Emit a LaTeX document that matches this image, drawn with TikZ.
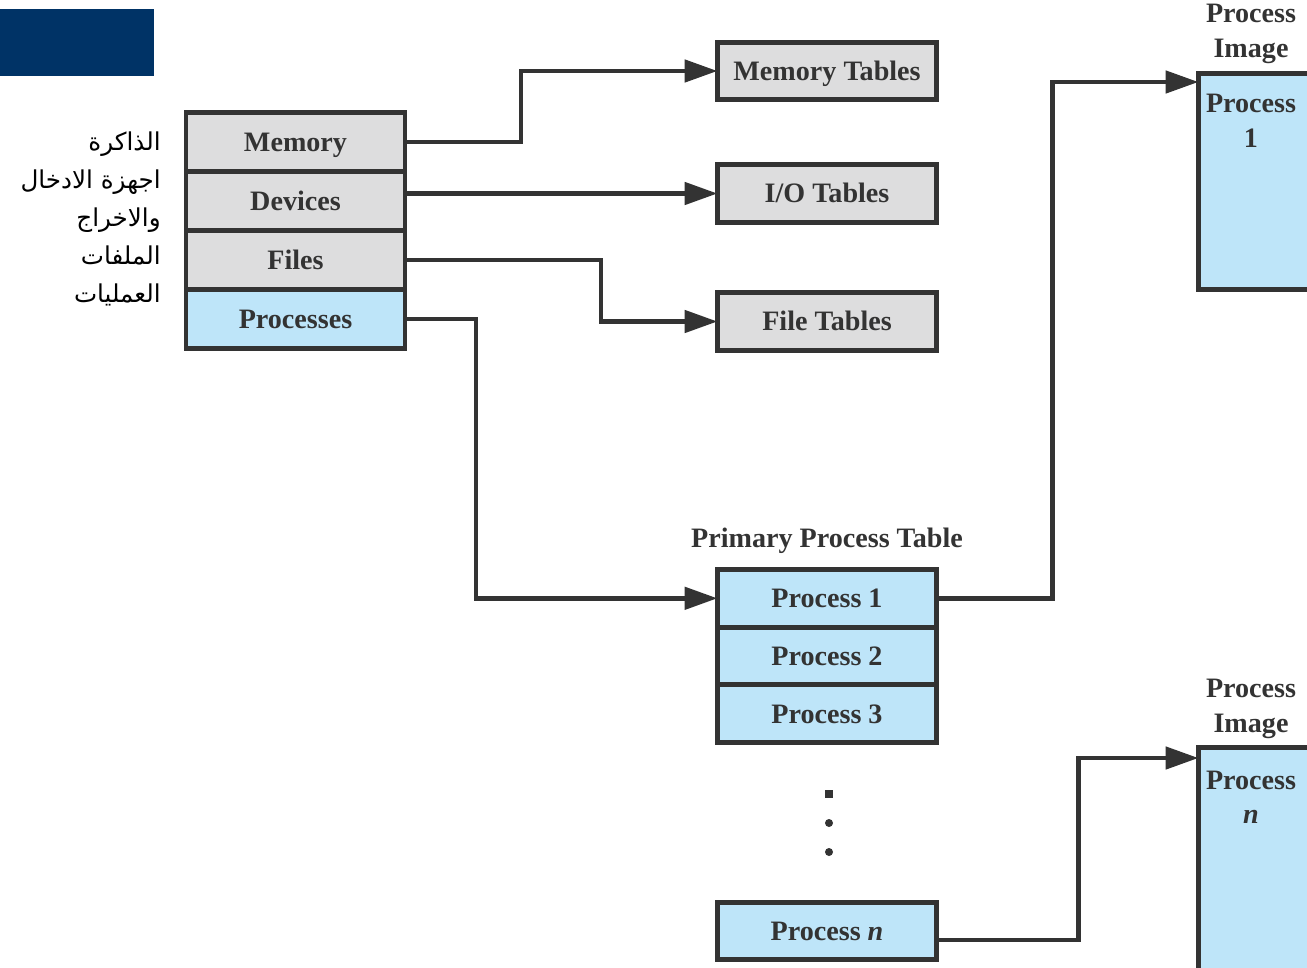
\documentclass[tikz,border=0pt]{standalone}
\usepackage{fontspec}
\setmainfont{Liberation Serif}
\newfontfamily\arabicfont[Script=Arabic]{DejaVu Sans}
\TeXXeTstate=1
\usetikzlibrary{positioning}
\usetikzlibrary{arrows.meta}
\definecolor{rowgray}{RGB}{221,221,222}
\definecolor{rowblue}{RGB}{190,229,249}
\definecolor{edgegray}{RGB}{51,51,51}
\definecolor{navy}{RGB}{0,51,102}
\tikzset{row/.style = {draw=edgegray, line width=2.8pt, minimum width=4.38cm, minimum height=1.18cm,
    inner sep=0, outer sep=0, text=edgegray, text height=10.6pt, text depth=0pt,
    font=\fontsize{16}{19.6}\selectfont\bfseries}}
\tikzset{grayrow/.style = {row, fill=rowgray}}
\tikzset{bluerow/.style = {row, fill=rowblue}}
\tikzset{tabrow/.style = {row, minimum height=1.15cm}}
\tikzset{caption/.style = {inner sep=0, align=center, text=edgegray, font=\fontsize{16}{19.6}\selectfont\bfseries}}
\tikzset{conn/.style = {draw=edgegray, line width=2.8pt, -{Triangle[length=0.66cm, width=0.44cm]}}}
\tikzset{dot/.style = {fill=edgegray, inner sep=0, minimum size=0.16cm}}

\begin{document}
\begin{tikzpicture}[x=0.02cm, y=-0.02cm]
      \useasboundingbox (0,0) rectangle (1307,967);
      \clip (0,0) rectangle (1307,967);
      \fill[navy] (0,9) rectangle (154,76);
      % arabic names of the rows
      \node[anchor=east, align=right, inner sep=0, font=\arabicfont\fontsize{14}{21.6}\selectfont] (ar) at (161,219)
        {\beginR الذاكرة\endR\\ \beginR اجهزة الادخال\endR\\ \beginR والاخراج\endR\\ \beginR الملفات\endR\\ \beginR العمليات\endR};
      % system tables
      \node[grayrow] (mem) at (295.5,142) {Memory};
      \node[grayrow] (dev) at (295.5,201) {Devices};
      \node[grayrow] (fil) at (295.5,260) {Files};
      \node[bluerow] (pro) at (295.5,319) {Processes};
      \node[tabrow, fill=rowgray] (memt) at (827,71) {Memory Tables};
      \node[tabrow, fill=rowgray] (iot) at (827,193.5) {I/O Tables};
      \node[tabrow, fill=rowgray] (filt) at (827,321.5) {File Tables};
      % primary process table
      \node[caption] (ppt) at (827,541) {Primary Process Table};
      \node[tabrow, fill=rowblue] (p1) at (827,598.3) {Process 1};
      \node[tabrow, fill=rowblue] (p2) at (827,656) {Process 2};
      \node[tabrow, fill=rowblue] (p3) at (827,713.7) {Process 3};
      \node[dot] (d1) at (829,794) {};
      \node[dot, circle] (d2) at (829,823) {};
      \node[dot, circle] (d3) at (829,852) {};
      \node[tabrow, fill=rowblue] (pn) at (827,931) {Process \textit{n}};
      % process images
      \node[row, fill=rowblue, anchor=north west, minimum width=3cm, minimum height=4.32cm] (img1) at (1198.5,73.5) {};
      \node[caption] (img1lbl) at (1251,34) {Process\\Image};
      \node[caption] (img1txt) at (1251,121) {Process\\1};
      \node[row, fill=rowblue, anchor=north west, minimum width=3cm, minimum height=6cm] (imgn) at (1198.5,747.5) {};
      \node[caption] (imgnlbl) at (1251,709) {Process\\Image};
      \node[caption] (imgntxt) at (1251,797) {Process\\\textit{n}};
      % connectors
      \draw[conn] (mem.east) -- ++(116,0) |- (memt.west);
      \draw[conn] (dev.east |- iot.west) -- (iot.west);
      \draw[conn] (fil.east) -- ++(196,0) |- (filt.west);
      \draw[conn] (pro.east) -- ++(71,0) |- (p1.west);
      \draw[conn] (p1.east) -- ++(116,0) |- ([yshift=-0.17cm]img1.north west);
      \draw[conn] ([yshift=-0.18cm]pn.east) -- ++(142,0) |- ([yshift=-0.21cm]imgn.north west);
\end{tikzpicture}
\end{document}
